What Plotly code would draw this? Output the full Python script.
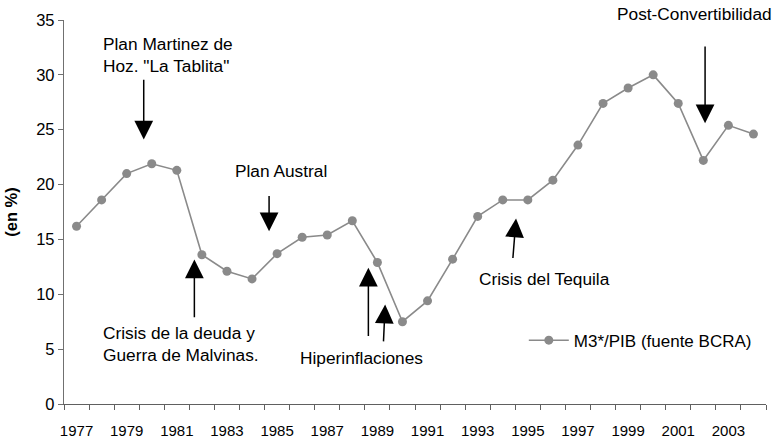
import plotly.graph_objects as go

years = list(range(1977, 2005))
m3_pib = [16.2, 18.6, 21.0, 21.9, 21.3, 13.6, 12.1, 11.4, 13.7, 15.2, 15.4, 16.7,
          12.9, 7.5, 9.4, 13.2, 17.1, 18.6, 18.6, 20.4, 23.6, 27.4, 28.8, 30.0,
          27.4, 22.2, 25.4, 24.6]
series_name = "M3*/PIB (fuente BCRA)"
tick_years = list(range(1977, 2004, 2))
tick_labels = [str(y) for y in tick_years]
y_ticks = [0, 5, 10, 15, 20, 25, 30, 35]

# event labels: text, x (year), y (value)
event_labels = [
    ("Plan Martinez de<br>Hoz. \"La Tablita\"", 1977.98, 31.8),
    ("Plan Austral", 1983.25, 21.22),
    ("Crisis de la deuda y<br>Guerra de Malvinas.", 1977.98, 5.43),
    ("Hiperinflaciones", 1985.82, 4.22),
    ("Crisis del Tequila", 1992.98, 11.4),
    ("Post-Convertibilidad", 1998.48, 35.52),
]
# arrows: tail x, tail y, head x, head y
event_arrows = [
    (1979.68, 29.68, 1979.68, 24.1),
    (1984.68, 19.1, 1984.68, 15.75),
    (1981.70, 7.78, 1981.70, 13.17),
    (1988.64, 6.05, 1988.64, 12.41),
    (1989.24, 5.57, 1989.31, 9.06),
    (1994.40, 13.17, 1994.53, 16.91),
    (2002.07, 32.72, 2002.07, 25.58),
]

FONT = "Liberation Sans, Arial, sans-serif"
GRAY = "#8a8a8a"
Y_MAX = 35

fig = go.Figure()
fig.add_trace(go.Scatter(
    x=years, y=m3_pib, name=series_name, mode="lines+markers",
    line=dict(color=GRAY, width=1.6),
    marker=dict(color=GRAY, size=9),
    cliponaxis=False,
))

annotations = []
for text, x, y in event_labels:
    if y > Y_MAX:
        yref, yy = "paper", y / Y_MAX
    else:
        yref, yy = "y", y
    annotations.append(dict(
        x=x, y=yy, xref="x", yref=yref, text=text, showarrow=False,
        xanchor="left", yanchor="middle", align="left",
        font=dict(family=FONT, size=17.3, color="black"),
    ))
for tx, ty, hx, hy in event_arrows:
    annotations.append(dict(
        x=hx, y=hy, ax=tx, ay=ty, xref="x", yref="y", axref="x", ayref="y",
        text="", showarrow=True, arrowhead=2, arrowsize=2.5, arrowwidth=1.5,
        arrowcolor="black", standoff=0, startstandoff=0,
    ))

fig.update_layout(
    width=775, height=443,
    margin=dict(l=64, r=9, t=20, b=39),
    paper_bgcolor="white", plot_bgcolor="white",
    font=dict(family=FONT, color="black"),
    showlegend=True,
    legend=dict(
        x=0.655, y=0.165, xanchor="left", yanchor="middle",
        bgcolor="rgba(0,0,0,0)", font=dict(family=FONT, size=17, color="black"),
        itemwidth=40,
    ),
    annotations=annotations,
    xaxis=dict(
        range=[1976.5, 2004.5], tickmode="array", tickvals=tick_years,
        ticktext=tick_labels, ticks="", showgrid=False, zeroline=False,
        showline=True, linecolor="#606060", linewidth=1.3, automargin=False,
        tickfont=dict(family=FONT, size=15, color="black"),
        ticklabelstandoff=13,
        minor=dict(tickmode="linear", tick0=1976.5, dtick=1, ticks="outside",
                   ticklen=5, tickcolor="#606060", tickwidth=1, showgrid=False),
    ),
    yaxis=dict(
        range=[0, Y_MAX], tickmode="array", tickvals=y_ticks, ticks="outside",
        ticklen=5, tickcolor="#707070", showgrid=False, zeroline=False,
        showline=True, linecolor="#707070", linewidth=1.3, automargin=False,
        tickfont=dict(family=FONT, size=16.5, color="black"),
        title=dict(text="<b>(en %)</b>", font=dict(family=FONT, size=16.5, color="black"),
                   standoff=14),
    ),
)

fig.write_html("out.html", config={"displayModeBar": False},
               post_script="document.body.style.margin='0';")
